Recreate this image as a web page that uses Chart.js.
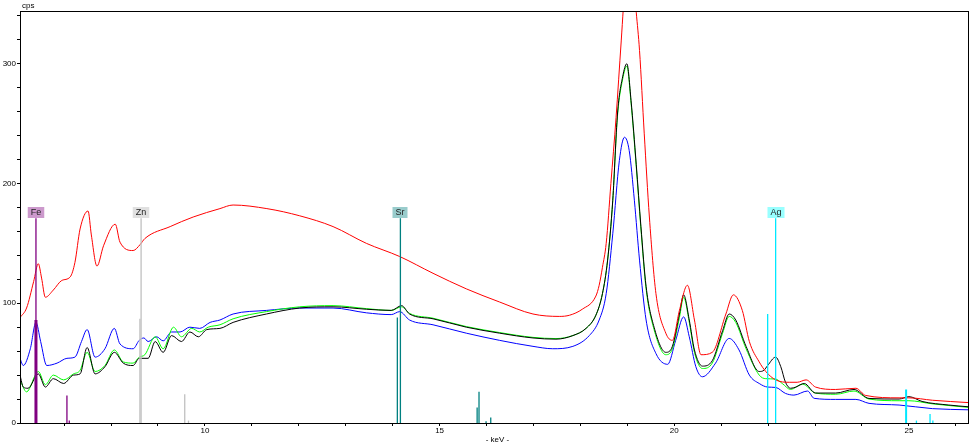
<!DOCTYPE html>
<html>
<head>
<meta charset="utf-8">
<script src="https://cdn.jsdelivr.net/npm/chart.js@4.4.1/dist/chart.umd.min.js"></script>
<style>
  html, body { margin: 0; padding: 0; background: #fff; }
  #wrap { width: 975px; height: 445px; }
</style>
</head>
<body>
<div id="wrap"><canvas id="spectrum" width="975" height="445"></canvas></div>
<script>
// spectra (keV / cps)
const redKeV = [6.06,6.20,6.35,6.45,6.52,6.60,6.77,6.95,7.13,7.23,7.34,7.51,7.58,7.70,7.84,8.09,8.19,8.47,8.62,8.72,9.26,9.75,10.32,10.60,11.32,12.02,12.73,13.44,14.15,14.86,15.57,16.28,16.99,17.55,17.77,18.04,18.33,18.40,18.47,18.55,18.65,18.76,18.87,18.96,19.05,19.13,19.19,19.26,19.36,19.47,19.61,19.82,19.96,20.11,20.28,20.43,20.57,20.81,21.10,21.26,21.45,21.60,21.81,21.95,22.16,22.45,22.62,22.81,23.01,23.44,23.87,24.08,24.79,25.00,25.50,26.28];
const redCps = [88,96,118,133,121,105,111,119,122,134,162,177,157,131,148,166,151,144,149,154,164,172,179,182,179,173,164,150,139,125,112,101,91,89,90,95,106,115,130,150,200,255,319,370,388,370,343,311,242,172,108,75,69,94,115,86,57,59,91,107,94,68,51,43,36,34,34,36,30,28,29,23,21,21,19,17];

const blackKeV = [6.06,6.13,6.23,6.45,6.60,6.77,6.99,7.20,7.34,7.49,7.66,7.87,8.07,8.26,8.47,8.60,8.79,8.94,9.11,9.29,9.50,9.68,9.86,10.04,10.32,10.60,11.31,12.02,12.73,13.44,13.97,14.19,14.36,14.86,15.57,16.28,16.99,17.48,17.84,18.12,18.33,18.47,18.58,18.69,18.79,18.90,18.99,19.08,19.19,19.29,19.40,19.57,19.82,19.96,20.11,20.20,20.32,20.43,20.60,20.81,21.03,21.17,21.31,21.53,21.81,21.91,21.99,22.16,22.27,22.37,22.48,22.59,22.77,23.01,23.44,23.83,24.15,24.79,25.00,25.28,25.85,26.28];
const blackCps = [40,30,29,41,30,37,33,40,41,63,41,47,59,50,48,54,54,68,59,73,68,76,72,78,79,84,91,96,97,95,94,98,91,87,80,75,71,70,73,79,90,108,136,186,258,289,300,269,216,164,114,80,59,64,91,107,86,61,47.5,52,77,91,86,64,43,44,48,55,47,34,29,30,33,25,25,28,20.5,20,22,18,15,13.5];

const greenKeV = [6.06,6.20,6.45,6.60,6.77,6.99,7.20,7.34,7.49,7.66,7.87,8.07,8.26,8.47,8.60,8.72,8.94,9.11,9.33,9.50,9.72,9.89,10.07,10.32,10.60,11.31,12.02,12.73,13.44,13.97,14.19,14.36,14.86,15.57,16.28,16.99,17.48,17.84,18.12,18.33,18.47,18.58,18.69,18.79,18.90,18.99,19.08,19.19,19.29,19.40,19.57,19.82,19.96,20.11,20.20,20.32,20.43,20.60,20.81,21.03,21.17,21.31,21.53,21.81,21.95,22.16,22.30,22.48,22.73,23.01,23.44,23.83,24.15,24.79,25.00,25.50,26.28];
const greenCps = [36,26,43,32,40,36,41,44,59,43,48,61,51,50,55,57,72,62,80,72,79,76,80,82,87,93,97,98,95.5,94,97,91.5,87.5,80.5,75.5,71.5,70.5,73,79,90,108,136,186,256,287,298,267,214,162,112,78,57,62,88,105,84,59,45.5,50,75,89,84,62,40,37,36.7,33,28,32.5,25,24,26.7,20,18.6,18.6,16,13];

const blueKeV = [6.06,6.13,6.28,6.40,6.50,6.63,6.85,7.06,7.23,7.37,7.49,7.66,7.87,8.07,8.19,8.47,8.60,8.70,8.79,8.97,9.11,9.29,9.47,9.68,9.89,10.11,10.32,10.60,11.31,12.02,12.73,13.44,13.97,14.15,14.36,14.86,15.57,16.28,16.99,17.41,17.84,18.19,18.40,18.55,18.69,18.83,18.94,19.04,19.15,19.26,19.40,19.61,19.86,20.03,20.20,20.32,20.46,20.60,20.88,21.17,21.38,21.60,21.81,21.99,22.16,22.37,22.55,22.84,22.98,23.44,23.87,24.15,24.79,25.50,26.28];
const blueCps = [54,48,62,84,68,48,50,54,55,68,78,55,62,79,66,62,69,71,68,72,68.6,76,76,80,79,84,86,91,94,96,96,92,90.5,93,86,82,75,69,64,62,64,73,86,108,158,219,238.6,227.5,186,136,86,58,49,69,88.6,72,47,38.6,50,70.6,61,40,33,30,29.7,24.7,23.3,26.7,20.6,19.7,19.7,16.4,15,12,11];

// element marker lines (first entry = labelled line)
const feStemKeV = [6.40, 6.40, 7.06, 7.11];
const feStemCps = [171, 86, 23, 2];
const znStemKeV = [8.64, 8.615, 9.57, 9.65];
const znStemCps = [171, 87, 24, 2];
const srStemKeV = [14.165, 14.10, 15.80, 15.84, 15.99, 16.09];
const srStemCps = [171, 88, 13, 26, 1.5, 4.5];
const agStemKeV = [22.16, 21.99, 24.94, 25.16, 25.45, 25.51];
const agStemCps = [171, 91, 28, 2, 7.5, 2];

const labelNames = ["Fe", "Zn", "Sr", "Ag"];
const labelKeV = [6.40, 8.64, 14.165, 22.16];
const labelCps = [171, 171, 171, 171];
const labelFill = ["#cc99cc", "#e0e0e0", "#99cccc", "#99ffff"];

const xTicks = [7,8,9,10,11,12,13,14,15,16,17,18,19,20,21,22,23,24,25,26];
const yTicks = [0,20,40,60,80,100,120,140,160,180,200,220,240,260,280,300,320,340];

function pts(xs, ys) {
  return xs.map((x, i) => ({ x: x, y: ys[i] }));
}

function stems(xs, ys) {
  const out = [];
  xs.forEach((x, i) => {
    out.push({ x: x, y: 0 }, { x: x, y: ys[i] }, { x: x, y: null });
  });
  return out;
}

function spectrum(data, color, order) {
  return {
    data: data,
    borderColor: color,
    borderWidth: 1,
    pointRadius: 0,
    cubicInterpolationMode: "monotone",
    order: order,
  };
}

function stemSet(data, color, thick, width) {
  return {
    data: data,
    borderColor: color,
    borderWidth: 1.3,
    pointRadius: 0,
    tension: 0,
    spanGaps: false,
    order: 0,
    segment: {
      borderWidth: (ctx) => (Math.floor(ctx.p0DataIndex / 3) === thick ? width : 1.3),
    },
  };
}

const labelsPlugin = {
  id: "labels",
  afterDatasetsDraw(chart) {
    const ctx = chart.ctx;
    const xs = chart.scales.x, ys = chart.scales.y;
    ctx.save();
    ctx.font = "9px 'Liberation Sans', sans-serif";
    ctx.textAlign = "center";
    ctx.textBaseline = "middle";
    labelNames.forEach((name, i) => {
      const px = Math.round(xs.getPixelForValue(labelKeV[i]));
      const py = Math.round(ys.getPixelForValue(labelCps[i]));
      const w = ctx.measureText(name).width + 6;
      ctx.fillStyle = labelFill[i];
      ctx.fillRect(px - w / 2, py - 11, w, 11);
      ctx.fillStyle = "#222";
      ctx.fillText(name, px, py - 5);
    });
    ctx.restore();
  },
  afterDraw(chart) {
    const a = chart.chartArea;
    const ctx = chart.ctx;
    ctx.save();
    ctx.strokeStyle = "#000";
    ctx.lineWidth = 1;
    ctx.strokeRect(a.left + 0.5, a.top + 0.5, a.right - a.left - 1, a.bottom - a.top);
    ctx.fillStyle = "#000";
    ctx.font = "8px 'Liberation Sans', sans-serif";
    ctx.textBaseline = "alphabetic";
    ctx.textAlign = "left";
    ctx.fillText("cps", a.left + 2, a.top - 3);
    ctx.textAlign = "center";
    ctx.fillText("- keV -", (a.left + a.right) / 2 + 3, 442);
    ctx.restore();
  },
};

const ctx = document.getElementById("spectrum").getContext("2d");
new Chart(ctx, {
  type: "line",
  data: {
    datasets: [
      stemSet(stems(feStemKeV, feStemCps), "#800080", 1, 3),
      stemSet(stems(znStemKeV, znStemCps), "#c0c0c0", -1, 1),
      stemSet(stems(srStemKeV, srStemCps), "#008080", -1, 1),
      stemSet(stems(agStemKeV, agStemCps), "#00e8ff", 2, 2),
      spectrum(pts(redKeV, redCps), "#ff0000", 1),
      spectrum(pts(blackKeV, blackCps), "#000000", 2),
      spectrum(pts(greenKeV, greenCps), "#00ff00", 3),
      spectrum(pts(blueKeV, blueCps), "#0000ff", 4),
    ],
  },
  options: {
    responsive: false,
    animation: false,
    layout: { padding: { top: 11, right: 6, left: 0, bottom: 0 } },
    plugins: { legend: { display: false }, tooltip: { enabled: false } },
    scales: {
      x: {
        type: "linear",
        min: 6.06,
        max: 26.28,
        offset: false,
        afterBuildTicks: (s) => { s.ticks = xTicks.map((v) => ({ value: v })); },
        afterFit: (s) => { s.height = 22; },
        border: { display: false },
        grid: { drawOnChartArea: false, drawTicks: true, tickLength: 3, color: "#000" },
        ticks: {
          autoSkip: false,
          maxRotation: 0,
          padding: 0,
          color: "#000",
          font: { size: 8, family: "'Liberation Sans', sans-serif" },
          callback: (v) => (v % 5 === 0 ? String(v) : ""),
        },
      },
      y: {
        min: 0,
        max: 344,
        afterBuildTicks: (s) => { s.ticks = yTicks.map((v) => ({ value: v })); },
        afterFit: (s) => { s.width = 20; },
        border: { display: false },
        grid: { drawOnChartArea: false, drawTicks: true, tickLength: 3, color: "#000" },
        ticks: {
          autoSkip: false,
          padding: 1,
          color: "#000",
          font: { size: 8, family: "'Liberation Sans', sans-serif" },
          callback: (v) => (v % 100 === 0 ? String(v) : ""),
        },
      },
    },
  },
  plugins: [labelsPlugin],
});
</script>
</body>
</html>
